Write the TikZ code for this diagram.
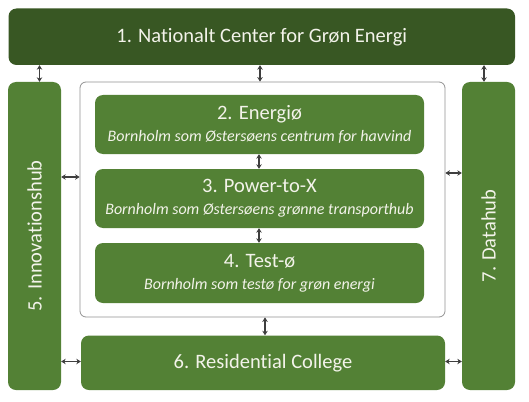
\documentclass[tikz,border=0pt]{standalone}
\usepackage{fontspec}
\setmainfont[Ligatures=NoCommon]{Carlito}
\usetikzlibrary{arrows.meta}
\definecolor{darkgr}{HTML}{385723}
\definecolor{midgr}{HTML}{538135}
\definecolor{arrgray}{HTML}{3F3F3F}
\definecolor{txt}{HTML}{F3F3EA}
\tikzset{
  gbox/.style={draw=none, fill=midgr, rounded corners=8pt, text=txt, align=center, inner sep=0pt},
  topbox/.style={gbox, fill=darkgr},
  frame/.style={draw=gray!85, line width=0.8pt, fill=white, rounded corners=6pt, inner sep=0pt},
  arr/.style={draw=arrgray, line width=1.1pt, {Stealth[length=4.5pt,width=5.5pt]}-{Stealth[length=4.5pt,width=5.5pt]}},
  subbox/.style={gbox, minimum width=329pt, font=\fontsize{16}{22}\selectfont},
}
\newcommand{\hd}[1]{{\fontsize{20.5}{22}\selectfont #1}}
\begin{document}
\begin{tikzpicture}[x=1pt,y=-1pt]
\useasboundingbox (0,0) rectangle (529,401);
\fill[white] (0,0) rectangle (529,401);
% boxes
\node[topbox, minimum width=506.5pt, minimum height=56.5pt, font=\fontsize{20.5}{22}\selectfont] (top) at (261.75,36.75) {1. Nationalt Center for Grøn Energi};
\node[frame, minimum width=365pt, minimum height=235pt] (frame) at (262.5,199.5) {};
\node[gbox, rotate=90, minimum width=308pt, minimum height=53pt, font=\fontsize{20.5}{22}\selectfont] (inno) at (34.5,236) {5. Innovationshub};
\node[gbox, rotate=90, minimum width=308pt, minimum height=53pt, font=\fontsize{20.5}{22}\selectfont] (data) at (488.5,236) {7. Datahub};
\node[subbox, minimum height=59pt] (b2) at (259.5,124.5) {\hd{2. Energiø}\\\textit{Bornholm som Østersøens centrum for havvind}};
\node[subbox, minimum height=59pt] (b3) at (259.5,198.5) {\hd{3. Power-to-X}\\\textit{Bornholm som Østersøens grønne transporthub}};
\node[subbox, minimum height=60pt] (b4) at (259.5,273) {\hd{4. Test-ø}\\\textit{Bornholm som testø for grøn energi}};
\node[gbox, minimum width=364pt, minimum height=54.5pt, font=\fontsize{20.5}{22}\selectfont] (b6) at (263,362.75) {6. Residential College};
% helper coordinates
\coordinate (ax1) at (39.5,0);
\coordinate (ax2) at (260,0);
\coordinate (ax3) at (484,0);
\coordinate (ax4) at (259,0);
\coordinate (ax5) at (265,0);
\coordinate (ay1) at (0,177);
\coordinate (ay2) at (0,173);
\coordinate (ay3) at (0,361.5);
% connectors
\draw[arr] (top.south -| ax1) -- (inno.east -| ax1);
\draw[arr] (top.south -| ax2) -- (frame.north -| ax2);
\draw[arr] (top.south -| ax3) -- (data.east -| ax3);
\draw[arr] (inno.south |- ay1) -- (frame.west |- ay1);
\draw[arr] (frame.east |- ay2) -- (data.north |- ay2);
\draw[arr] (b2.south -| ax4) -- (b3.north -| ax4);
\draw[arr] (b3.south -| ax4) -- (b4.north -| ax4);
\draw[arr] (frame.south -| ax5) -- (b6.north -| ax5);
\draw[arr] (inno.south |- ay3) -- (b6.west |- ay3);
\draw[arr] (b6.east |- ay3) -- (data.north |- ay3);
\end{tikzpicture}
\end{document}
